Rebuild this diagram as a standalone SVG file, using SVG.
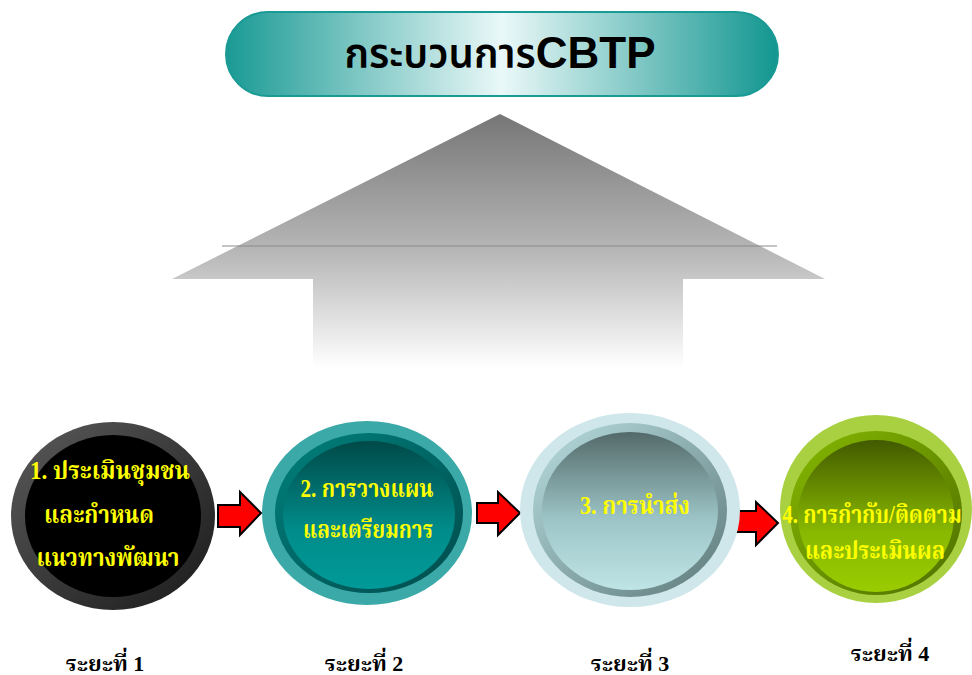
<svg xmlns="http://www.w3.org/2000/svg" width="972" height="675" viewBox="0 0 972 675">
<defs>
<style>
.th{font-family:"Liberation Serif","Noto Serif Thai","Noto Sans Thai","DejaVu Serif",serif;font-weight:bold;}
.lbl{fill:#ffff00;font-size:25px;text-anchor:middle;}
.stage{fill:#000;font-size:22px;text-anchor:middle;}
.conn{fill:#ff0000;stroke:#000;stroke-width:2;stroke-linejoin:miter;}
</style>
<linearGradient id="pill" x1="0" y1="0" x2="1" y2="0">
<stop offset="0" stop-color="#1a9a94"/>
<stop offset="0.5" stop-color="#eaf8f8"/>
<stop offset="1" stop-color="#129690"/>
</linearGradient>
<linearGradient id="arrowG" x1="0" y1="0" x2="0" y2="1">
<stop offset="0" stop-color="#767676"/>
<stop offset="0.55" stop-color="#b8b8b8"/>
<stop offset="1" stop-color="#ffffff"/>
</linearGradient>
<linearGradient id="g1o" x1="0" y1="0" x2="1" y2="1">
<stop offset="0" stop-color="#5a5a5a"/>
<stop offset="1" stop-color="#1a1a1a"/>
</linearGradient>
<linearGradient id="g2r" x1="0" y1="0" x2="1" y2="1">
<stop offset="0" stop-color="#00807c"/>
<stop offset="1" stop-color="#004c4c"/>
</linearGradient>
<linearGradient id="g2c" x1="0" y1="0" x2="0" y2="1">
<stop offset="0" stop-color="#004a48"/>
<stop offset="0.6" stop-color="#008c8a"/>
<stop offset="1" stop-color="#009a98"/>
</linearGradient>
<linearGradient id="g3r" x1="0" y1="0" x2="1" y2="1">
<stop offset="0" stop-color="#b8dde0"/>
<stop offset="1" stop-color="#5e7a7a"/>
</linearGradient>
<linearGradient id="g3c" x1="0" y1="0" x2="0" y2="1">
<stop offset="0" stop-color="#546a6a"/>
<stop offset="0.55" stop-color="#9cc4c6"/>
<stop offset="1" stop-color="#bfe4e6"/>
</linearGradient>
<linearGradient id="g4r" x1="0" y1="0" x2="1" y2="1">
<stop offset="0" stop-color="#86b800"/>
<stop offset="1" stop-color="#4e6e00"/>
</linearGradient>
<linearGradient id="g4c" x1="0" y1="0" x2="0" y2="1">
<stop offset="0" stop-color="#425a00"/>
<stop offset="0.6" stop-color="#88b800"/>
<stop offset="1" stop-color="#9acc00"/>
</linearGradient>
</defs>
<rect width="972" height="675" fill="#fff"/>

<g id="title">
<rect x="226" y="12" width="552" height="84" rx="42" ry="42" fill="url(#pill)" stroke="#1a9a94" stroke-width="2"/>
<text x="500" y="68" text-anchor="middle" fill="#000"><tspan font-family="Noto Sans Thai, Noto Sans, DejaVu Sans, sans-serif" font-weight="600" font-size="40">กระบวนการ</tspan><tspan font-family="Liberation Sans, Arial, sans-serif" font-weight="bold" font-size="44">CBTP</tspan></text>
</g>

<g id="bigArrow">
<polygon points="500,114 825,279 683,279 683,368 313,368 313,279 172,279" fill="url(#arrowG)"/>
<line x1="222" y1="246" x2="777" y2="246" stroke="#8a8a8a" stroke-width="1"/>
</g>

<g id="connectors">
<polygon class="conn" points="218,505 240,505 240,492 261,513 240,535 240,527 218,527"/>
<polygon class="conn" points="477,503 498,503 498,492 520,513 498,535 498,523 477,523"/>
<polygon class="conn" points="734,511 756,511 756,502 778,523 756,545 756,532 734,532"/>
</g>

<g id="node1">
<ellipse cx="113" cy="516" rx="102" ry="94" fill="url(#g1o)"/>
<ellipse cx="113" cy="516" rx="88" ry="81" fill="#000"/>
<text class="th lbl" x="110" y="479" textLength="160" lengthAdjust="spacingAndGlyphs">1. ประเมินชุมชน</text>
<text class="th lbl" x="99" y="523" textLength="110" lengthAdjust="spacingAndGlyphs">และกำหนด</text>
<text class="th lbl" x="108" y="566" textLength="143" lengthAdjust="spacingAndGlyphs">แนวทางพัฒนา</text>
</g>

<g id="node2">
<ellipse cx="367" cy="513" rx="105" ry="92" fill="#3aa9a8"/>
<ellipse cx="369" cy="513" rx="94" ry="80" fill="url(#g2r)"/>
<ellipse cx="369" cy="515" rx="86" ry="74" fill="url(#g2c)"/>
<text class="th lbl" x="367" y="497" textLength="133" lengthAdjust="spacingAndGlyphs">2. การวางแผน</text>
<text class="th lbl" x="368" y="538" textLength="130" lengthAdjust="spacingAndGlyphs">และเตรียมการ</text>
</g>

<g id="node3">
<ellipse cx="630" cy="510" rx="110" ry="97" fill="#cfe7eb"/>
<ellipse cx="630" cy="510" rx="97" ry="87" fill="url(#g3r)"/>
<ellipse cx="630" cy="511" rx="88" ry="79" fill="url(#g3c)"/>
<text class="th lbl" x="635" y="514" textLength="110" lengthAdjust="spacingAndGlyphs">3. การนำส่ง</text>
</g>

<g id="node4">
<ellipse cx="876" cy="509" rx="96" ry="94" fill="#a8d040"/>
<ellipse cx="876" cy="513" rx="86" ry="82" fill="url(#g4r)"/>
<ellipse cx="876" cy="516" rx="78" ry="76" fill="url(#g4c)"/>
<text class="th lbl" transform="translate(872 523) scale(0.84 1)" x="0" y="0" font-size="24">4. การกำกับ/ติดตาม</text>
<text class="th lbl" x="875" y="559" textLength="140" lengthAdjust="spacingAndGlyphs">และประเมินผล</text>
</g>

<g id="stages">
<text class="th stage" x="105" y="671">ระยะที่ 1</text>
<text class="th stage" x="364" y="671">ระยะที่ 2</text>
<text class="th stage" x="630" y="671">ระยะที่ 3</text>
<text class="th stage" x="890" y="661">ระยะที่ 4</text>
</g>
</svg>
